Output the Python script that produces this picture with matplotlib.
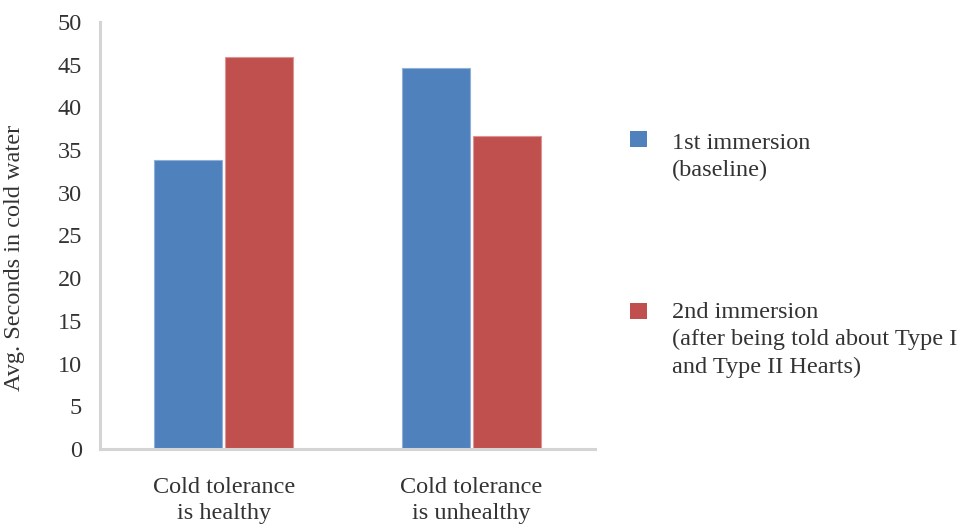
import numpy as np
import matplotlib
matplotlib.use('Agg')
import matplotlib.pyplot as plt
from matplotlib.patches import Rectangle

# categories and series
CATEGORIES = ['Cold tolerance\nis healthy', 'Cold tolerance\nis unhealthy']
FIRST_IMMERSION = [33.8, 44.6]
SECOND_IMMERSION = [45.9, 36.7]
SERIES_LABELS = ['1st immersion\n(baseline)',
                 '2nd immersion\n(after being told about Type I\nand Type II Hearts)']
Y_TICKS = np.arange(0, 51, 5)

BLUE = '#4F81BD'
RED = '#C0504D'
TEXT = '#333333'
FS = 17.5

plt.rcParams['font.family'] = ['Liberation Serif', 'DejaVu Serif']
plt.rcParams['font.size'] = FS

fig = plt.figure(figsize=(9.62, 5.28), dpi=100)
ax = fig.add_axes([100 / 962, 1 - 449 / 528, 495 / 962, 427 / 528])

x = np.arange(len(CATEGORIES))
width = 0.275
offset = 0.143
ax.bar(x - offset, FIRST_IMMERSION, width, color=BLUE, edgecolor='#8fb0d8', linewidth=0.8)
ax.bar(x + offset, SECOND_IMMERSION, width, color=RED, edgecolor='#dd9492', linewidth=0.8)

ax.set_xlim(-0.5, 1.5)
ax.set_ylim(0, 50)
ax.set_yticks(Y_TICKS)
ax.set_xticks(x)
ax.set_xticklabels(CATEGORIES, linespacing=1.35)
ax.tick_params(axis='both', length=0, colors=TEXT, labelsize=FS)
ax.tick_params(axis='y', pad=13)
ax.tick_params(axis='x', pad=20)

for side in ['top', 'right']:
    ax.spines[side].set_visible(False)
for side in ['left', 'bottom']:
    ax.spines[side].set_color('#d4d4d4')
    ax.spines[side].set_linewidth(2.2)

ax.set_ylabel('Avg. Seconds in cold water', color=TEXT, fontsize=FS)
ax.yaxis.set_label_coords(-0.152, 0.447)

# legend drawn by hand so that the square sits on the first text line
legend_tops = [131 / 528, 303 / 528]
text_tops = [137 / 528, 306 / 528]
for top, ttop, color, label in zip(legend_tops, text_tops, [BLUE, RED], SERIES_LABELS):
    fig.patches.append(Rectangle((630 / 962, 1 - top - 16 / 528), 17 / 962, 16 / 528,
                                 transform=fig.transFigure, facecolor=color,
                                 edgecolor='none'))
    fig.text(672 / 962, 1 - ttop + 4 / 528, label, ha='left', va='top',
             color=TEXT, fontsize=FS, linespacing=1.38)

fig.savefig('out.png', dpi=100)
